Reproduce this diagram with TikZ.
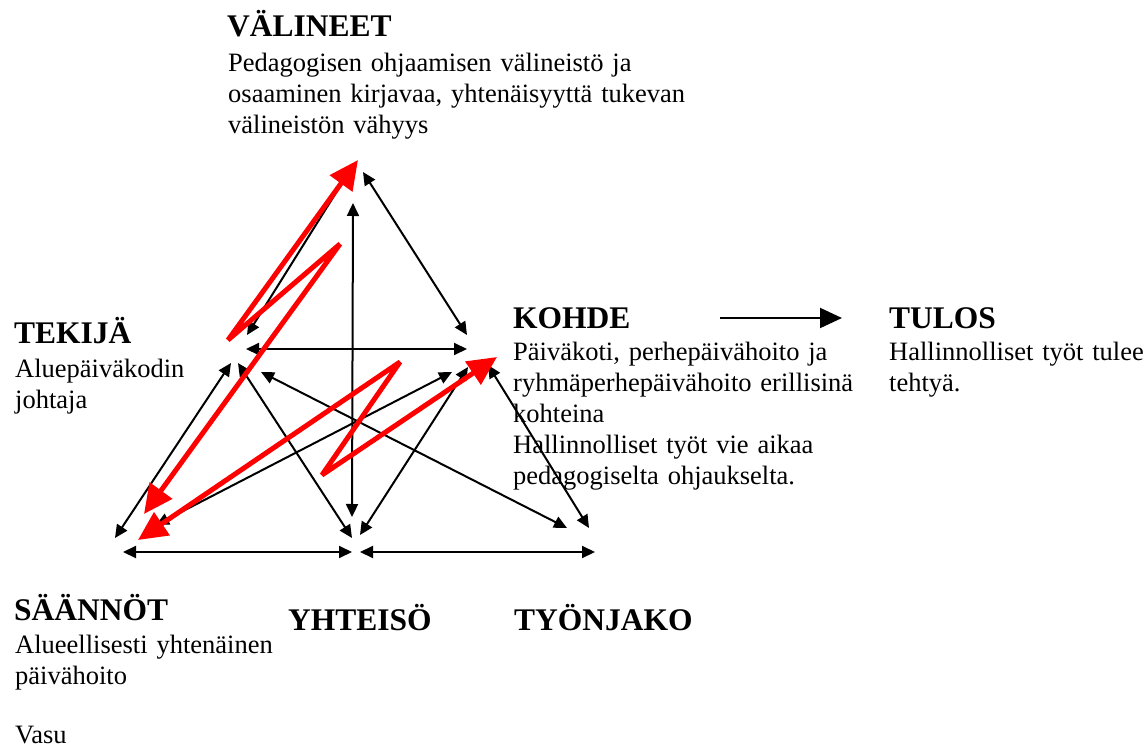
\documentclass[tikz,border=0pt]{standalone}
\usepackage{fontspec}
\setmainfont{Liberation Serif}
\usetikzlibrary{arrows.meta}

\tikzset{
  head/.style={font=\bfseries\fontsize{31.5}{36}\selectfont, anchor=base west, inner sep=0pt},
  body/.style={font=\fontsize{26.5}{31}\selectfont, anchor=base west, inner sep=0pt,
               text width=640pt, align=left},
  link/.style={line width=2pt,
               {Triangle[length=13pt,width=12pt]}-{Triangle[length=13pt,width=12pt]}},
  flow/.style={line width=2pt, -{Triangle[length=22pt,width=20pt]}},
  clash/.style={draw=red, line width=5pt, line join=bevel,
                {Triangle[length=29pt,width=27pt]}-{Triangle[length=29pt,width=27pt]}}
}

\begin{document}
\begin{tikzpicture}[x=1pt,y=-1pt]
\useasboundingbox (0,0) rectangle (1144,749);
\fill[white] (0,0) rectangle (1144,749);

% ---- labels of the activity system ----
\node[head] (valineet) at (227,37) {VÄLINEET};
\node[body] (valineetTxt) at (228,72) {Pedagogisen ohjaamisen välineistö ja\\
  osaaminen kirjavaa, yhtenäisyyttä tukevan\\ välineistön vähyys};

\node[head] (tekija) at (14,343) {TEKIJÄ};
\node[body] (tekijaTxt) at (15,377) {Aluepäiväkodin\\ johtaja};

\node[head] (kohde) at (513,328) {KOHDE};
\node[body] (kohdeTxt) at (513,360) {Päiväkoti, perhepäivähoito ja\\
  ryhmäperhepäivähoito erillisinä\\ kohteina\\ Hallinnolliset työt vie aikaa\\
  pedagogiselta ohjaukselta.};

\node[head] (tulos) at (889,328) {TULOS};
\node[body] (tulosTxt) at (889,360) {Hallinnolliset työt tulee\\ tehtyä.};

\node[head] (saannot) at (14,620) {SÄÄNNÖT};
\node[body] (saannotTxt) at (15,653) {Alueellisesti yhtenäinen\\ päivähoito\\[28pt] Vasu};

\node[head] (yhteiso) at (288,630) {YHTEISÖ};
\node[head] (tyonjako) at (514,630) {TYÖNJAKO};

% ---- connector end points around the triangle ----
\coordinate (vL) at (349,172);
\coordinate (vR) at (363,172);
\coordinate (vC) at (353,203);
\coordinate (tA) at (247,335);
\coordinate (tB) at (246,349);
\coordinate (tC) at (231,363);
\coordinate (tD) at (238,363);
\coordinate (tE) at (261,372);
\coordinate (kA) at (467,335);
\coordinate (kB) at (467,349);
\coordinate (kC) at (452,372);
\coordinate (kD) at (468,367);
\coordinate (kE) at (488,365);
\coordinate (sA) at (115,538);
\coordinate (sB) at (156,525);
\coordinate (sC) at (123,552);
\coordinate (yA) at (352,517);
\coordinate (yB) at (352,538);
\coordinate (yC) at (360,535);
\coordinate (yD) at (352,552);
\coordinate (yE) at (360,552);
\coordinate (jA) at (567,528);
\coordinate (jB) at (589,528);
\coordinate (jC) at (595,552);
\coordinate (kOut) at (720,318);
\coordinate (tIn) at (842,318);

% ---- black relations ----
\draw[link] (vL) -- (tA);
\draw[link] (vR) -- (kA);
\draw[link] (vC) -- (yA);
\draw[link] (tB) -- (kB);
\draw[link] (tC) -- (sA);
\draw[link] (tD) -- (yB);
\draw[link] (tE) -- (jA);
\draw[link] (sB) -- (kC);
\draw[link] (yC) -- (kD);
\draw[link] (kE) -- (jB);
\draw[link] (sC) -- (yD);
\draw[link] (yE) -- (jC);
\draw[flow] (kOut) -- (tIn);

% ---- red contradictions ----
\coordinate (rA1) at (358,160);
\coordinate (rA2) at (228,340);
\coordinate (rA3) at (340,244);
\coordinate (rA4) at (144,514);
\coordinate (rB1) at (138,540);
\coordinate (rB2) at (400,362);
\coordinate (rB3) at (322,475);
\coordinate (rB4) at (497,357);
\draw[clash] (rA1) -- (rA2) -- (rA3) -- (rA4);
\draw[clash] (rB1) -- (rB2) -- (rB3) -- (rB4);
\end{tikzpicture}
\end{document}
